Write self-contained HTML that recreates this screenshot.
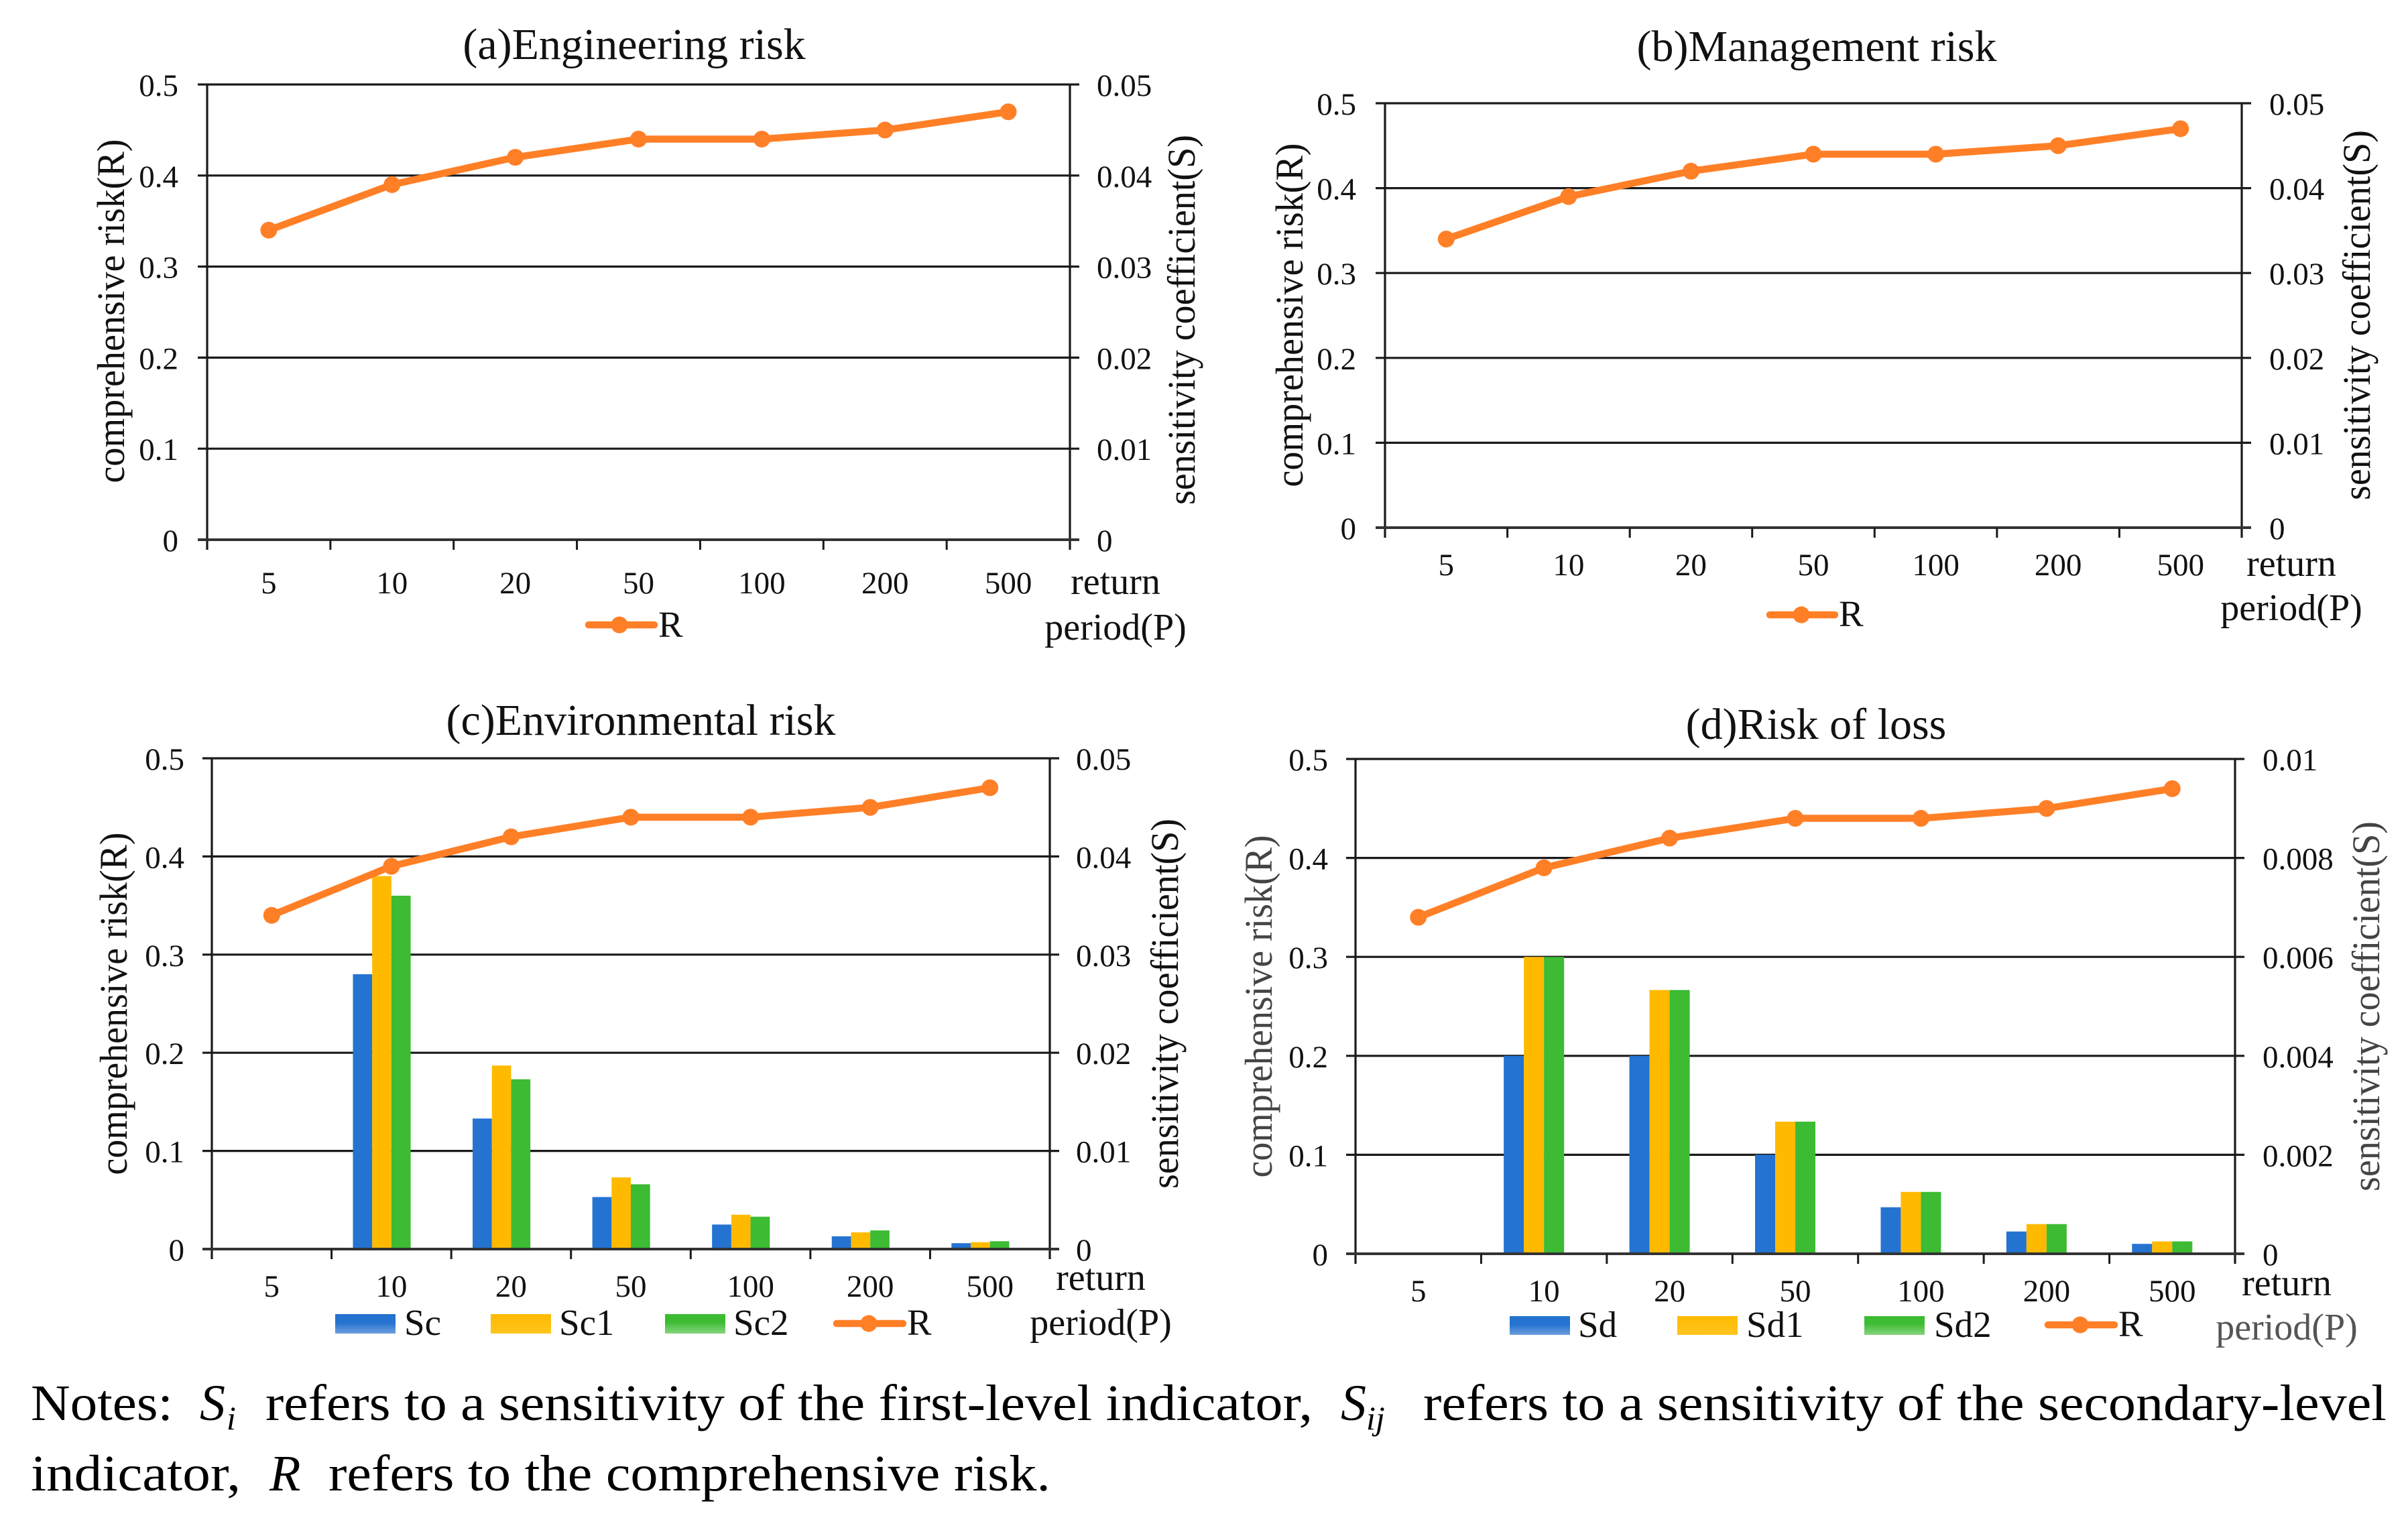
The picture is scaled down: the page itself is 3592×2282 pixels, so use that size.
<!DOCTYPE html>
<html lang="en">
<head>
<meta charset="utf-8">
<title>Sensitivity and comprehensive risk by return period</title>
<style>
html,body{margin:0;padding:0;background:#fff;width:3592px;height:2282px;overflow:hidden}
svg{display:block}
text{font-family:"Liberation Serif",serif;fill:#111}
.title{font-size:66px;text-anchor:middle}
.axt{font-size:58px;text-anchor:middle}
.ret{font-size:56px;text-anchor:middle}
.leg{font-size:55px}
.note{font-size:76px;fill:#000}
.it{font-style:italic}
.sub{font-size:50px;font-style:italic;fill:#000}
</style>
</head>
<body>
<svg id="figure" xmlns="http://www.w3.org/2000/svg" width="3592" height="2282" viewBox="0 0 3592 2282">
  <defs>
    <linearGradient id="gb" x1="0" y1="0" x2="0" y2="1"><stop offset="0.45" stop-color="#2473D1"/><stop offset="1" stop-color="#6F9FDC"/></linearGradient>
    <linearGradient id="gy" x1="0" y1="0" x2="0" y2="1"><stop offset="0" stop-color="#FFBA00"/><stop offset="1" stop-color="#FFC41F"/></linearGradient>
    <linearGradient id="gg" x1="0" y1="0" x2="0" y2="1"><stop offset="0.4" stop-color="#3CBB33"/><stop offset="1" stop-color="#86D47E"/></linearGradient>
  </defs>
  <rect x="0" y="0" width="3592" height="2282" fill="#fff"/>

  <g id="panel-a">
    <text class="title" x="946" y="88">(a)Engineering risk</text>
    <text class="axt" transform="translate(185 464) rotate(-90)" textLength="513" lengthAdjust="spacingAndGlyphs">comprehensive risk(R)</text>
    <text class="axt" transform="translate(1782 477) rotate(-90)" textLength="552" lengthAdjust="spacingAndGlyphs">sensitivity coefficient(S)</text>
    <text class="ret" x="1664" y="886">return</text>
    <text class="ret" x="1664" y="954">period(P)</text>
    <text class="leg" x="982" y="950">R</text>
  </g>

  <g id="panel-b">
    <text class="title" x="2710" y="91">(b)Management risk</text>
    <text class="axt" transform="translate(1943 470) rotate(-90)" textLength="513" lengthAdjust="spacingAndGlyphs">comprehensive risk(R)</text>
    <text class="axt" transform="translate(3535 470) rotate(-90)" textLength="552" lengthAdjust="spacingAndGlyphs">sensitivity coefficient(S)</text>
    <text class="ret" x="3418" y="859">return</text>
    <text class="ret" x="3418" y="925">period(P)</text>
    <text class="leg" x="2743" y="934">R</text>
  </g>

  <g id="panel-c">
    <text class="title" x="956" y="1096">(c)Environmental risk</text>
    <text class="axt" transform="translate(189 1497) rotate(-90)" textLength="511" lengthAdjust="spacingAndGlyphs">comprehensive risk(R)</text>
    <text class="axt" transform="translate(1757 1497) rotate(-90)" textLength="552" lengthAdjust="spacingAndGlyphs">sensitivity coefficient(S)</text>
    <text class="ret" x="1642" y="1924">return</text>
    <text class="ret" x="1642" y="1991">period(P)</text>
    <text class="leg" x="603" y="1991">Sc</text>
    <text class="leg" x="834" y="1991">Sc1</text>
    <text class="leg" x="1094" y="1991">Sc2</text>
    <text class="leg" x="1353" y="1991">R</text>
  </g>

  <g id="panel-d">
    <text class="title" x="2709" y="1102">(d)Risk of loss</text>
    <text class="axt" style="fill:#444" transform="translate(1897 1501) rotate(-90)" textLength="511" lengthAdjust="spacingAndGlyphs">comprehensive risk(R)</text>
    <text class="axt" style="fill:#444" transform="translate(3549 1501) rotate(-90)" textLength="552" lengthAdjust="spacingAndGlyphs">sensitivity coefficient(S)</text>
    <text class="ret" x="3411" y="1932">return</text>
    <text class="ret" style="fill:#555" x="3411" y="1998">period(P)</text>
    <text class="leg" x="2354" y="1994">Sd</text>
    <text class="leg" x="2605" y="1994">Sd1</text>
    <text class="leg" x="2885" y="1994">Sd2</text>
    <text class="leg" x="3160" y="1993">R</text>
  </g>

  <g id="notes">
    <text class="note" x="46" y="2118" textLength="212" lengthAdjust="spacingAndGlyphs">Notes:</text>
    <text class="note it" x="298" y="2118">S</text>
    <text class="sub" x="338" y="2132">i</text>
    <text class="note" x="396" y="2118" textLength="1562" lengthAdjust="spacingAndGlyphs">refers to a sensitivity of the first-level indicator,</text>
    <text class="note it" x="2000" y="2118">S</text>
    <text class="sub" x="2038" y="2132">ij</text>
    <text class="note" x="2123" y="2118" textLength="1437" lengthAdjust="spacingAndGlyphs">refers to a sensitivity of the secondary-level</text>
    <text class="note" x="46" y="2223" textLength="313" lengthAdjust="spacingAndGlyphs">indicator,</text>
    <text class="note it" x="402" y="2223">R</text>
    <text class="note" x="490" y="2223" textLength="1077" lengthAdjust="spacingAndGlyphs">refers to the comprehensive risk.</text>
  </g>
</svg>

<script>
// ---- chart data ----
const categories = ['5', '10', '20', '50', '100', '200', '500'];
const leftTicks = [0, 0.1, 0.2, 0.3, 0.4, 0.5];
const rightTicksA = ['0', '0.01', '0.02', '0.03', '0.04', '0.05'];
const rightTicksB = ['0', '0.01', '0.02', '0.03', '0.04', '0.05'];
const rightTicksC = ['0', '0.01', '0.02', '0.03', '0.04', '0.05'];
const rightTicksD = ['0', '0.002', '0.004', '0.006', '0.008', '0.01'];
const rValuesA = [0.34, 0.39, 0.42, 0.44, 0.44, 0.45, 0.47];
const rValuesB = [0.34, 0.39, 0.42, 0.44, 0.44, 0.45, 0.47];
const rValuesC = [0.34, 0.39, 0.42, 0.44, 0.44, 0.45, 0.47];
const rValuesD = [0.34, 0.39, 0.42, 0.44, 0.44, 0.45, 0.47];
const scValues = [0, 0.028, 0.0133, 0.0053, 0.0025, 0.0013, 0.0006];
const sc1Values = [0, 0.038, 0.0187, 0.0073, 0.0035, 0.0017, 0.0007];
const sc2Values = [0, 0.036, 0.0173, 0.0066, 0.0033, 0.0019, 0.0008];
const sdValues = [0, 0.004, 0.004, 0.002, 0.00094, 0.00045, 0.0002];
const sd1Values = [0, 0.006, 0.00533, 0.00267, 0.00125, 0.0006, 0.00025];
const sd2Values = [0, 0.006, 0.00533, 0.00267, 0.00125, 0.0006, 0.00025];

// ---- layout (not data) ----
const NS = 'http://www.w3.org/2000/svg';
const ORANGE = '#FF7F27';
const panels = [
  { id: 'panel-a', x0: 309, x1: 1596, top: 126, bottom: 805, leftEnd: 266, rightStart: 1636, xBase: 885,
    right: rightTicksA, r: rValuesA, bars: [], barW: 0,
    legendLine: [878, 976, 932, 924], swatches: [] },
  { id: 'panel-b', x0: 2066, x1: 3344, top: 154, bottom: 787, leftEnd: 2023, rightStart: 3385, xBase: 858,
    right: rightTicksB, r: rValuesB, bars: [], barW: 0,
    legendLine: [2640, 2737, 917, 2687], swatches: [] },
  { id: 'panel-c', x0: 316, x1: 1566, top: 1131, bottom: 1863, leftEnd: 275, rightStart: 1605, xBase: 1934,
    right: rightTicksC, r: rValuesC, bars: [scValues, sc1Values, sc2Values], barW: 28.7,
    legendLine: [1248, 1347, 1974, 1296],
    swatches: [[500, 1960, 90, 29, 'url(#gb)'], [732, 1960, 90, 29, 'url(#gy)'], [992, 1960, 90, 29, 'url(#gg)']] },
  { id: 'panel-d', x0: 2022, x1: 3334, top: 1132, bottom: 1870, leftEnd: 1981, rightStart: 3375, xBase: 1941,
    right: rightTicksD, r: rValuesD, bars: [sdValues, sd1Values, sd2Values], barW: 30,
    legendLine: [3055, 3154, 1976, 3103],
    swatches: [[2252, 1963, 90, 28, 'url(#gb)'], [2502, 1963, 90, 28, 'url(#gy)'], [2781, 1963, 90, 28, 'url(#gg)']] }
];
const barColors = ['#2473D1', '#FFBA00', '#3CBB33'];
const barNames = ['blue', 'yellow', 'green'];

function make(parent, tag, attrs, name) {
  const el = document.createElementNS(NS, tag);
  for (const k in attrs) el.setAttribute(k, attrs[k]);
  
  
  parent.appendChild(el);
  return el;
}

function drawPanel(p) {
  const root = document.getElementById(p.id);
  const catW = (p.x1 - p.x0) / categories.length;
  const rightMax = Math.max.apply(null, p.right.map(Number));
  const leftMax = Math.max.apply(null, leftTicks);
  const xCenter = i => p.x0 + catW * (i + 0.5);
  const yLeft = v => p.bottom - (v / leftMax) * (p.bottom - p.top);
  const yRight = v => p.bottom - (v / rightMax) * (p.bottom - p.top);

  // gridlines + tick labels
  leftTicks.forEach((t, i) => {
    const y = yLeft(t);
    if (t !== 0) {
      make(root, 'line', { x1: p.x0 - 14, x2: p.x1 + 14, y1: y, y2: y, stroke: '#1a1a1a', 'stroke-width': 3.2 }, 'gridline');
    }
    const lt = make(root, 'text', { x: p.leftEnd, y: y + 17, 'text-anchor': 'end', 'font-size': 47 }, 'left-y-tick-label');
    lt.textContent = String(t);
    const rt = make(root, 'text', { x: p.rightStart, y: yRight(Number(p.right[i])) + 17, 'font-size': 47 }, 'right-y-tick-label');
    rt.textContent = p.right[i];
  });

  // bars: four slots per category, the fourth left empty for the line series
  p.bars.forEach((series, s) => {
    series.forEach((v, i) => {
      if (v <= 0) return;
      const x = xCenter(i) - 2 * p.barW + s * p.barW;
      const y = yRight(v);
      make(root, 'rect', { x: x, y: y, width: p.barW, height: p.bottom - y, fill: barColors[s] }, 'bar-' + barNames[s] + '-' + categories[i]);
    });
  });

  // axes
  make(root, 'line', { x1: p.x0, x2: p.x0, y1: p.top, y2: p.bottom + 15, stroke: '#1a1a1a', 'stroke-width': 3.2 }, 'left-y-axis');
  make(root, 'line', { x1: p.x1, x2: p.x1, y1: p.top, y2: p.bottom + 15, stroke: '#1a1a1a', 'stroke-width': 3.2 }, 'right-y-axis');
  make(root, 'line', { x1: p.x0 - 14, x2: p.x1 + 14, y1: p.bottom, y2: p.bottom, stroke: '#333', 'stroke-width': 4 }, 'x-axis');

  categories.forEach((c, i) => {
    if (i > 0) {
      const tx = p.x0 + catW * i;
      make(root, 'line', { x1: tx, x2: tx, y1: p.bottom, y2: p.bottom + 15, stroke: '#1a1a1a', 'stroke-width': 3 }, 'x-tick');
    }
    const lab = make(root, 'text', { x: xCenter(i), y: p.xBase, 'text-anchor': 'middle', 'font-size': 47 }, 'x-tick-label');
    lab.textContent = c;
  });

  // R line
  const pts = p.r.map((v, i) => xCenter(i) + ',' + yLeft(v)).join(' ');
  make(root, 'polyline', { points: pts, fill: 'none', stroke: ORANGE, 'stroke-width': 10.5, 'stroke-linejoin': 'round', 'stroke-linecap': 'round' }, 'r-line');
  p.r.forEach((v, i) => {
    make(root, 'circle', { cx: xCenter(i), cy: yLeft(v), r: 12.5, fill: ORANGE }, 'r-point-' + categories[i]);
  });

  // legend marks
  const L = p.legendLine;
  make(root, 'line', { x1: L[0], x2: L[1], y1: L[2], y2: L[2], stroke: ORANGE, 'stroke-width': 10.5, 'stroke-linecap': 'round' }, 'legend-line-r');
  make(root, 'circle', { cx: L[3], cy: L[2], r: 12.5, fill: ORANGE }, 'legend-marker-r');
  p.swatches.forEach((s, i) => {
    make(root, 'rect', { x: s[0], y: s[1], width: s[2], height: s[3], fill: s[4] }, 'legend-swatch-' + barNames[i]);
  });
}

panels.forEach(drawPanel);
</script>
</body>
</html>
